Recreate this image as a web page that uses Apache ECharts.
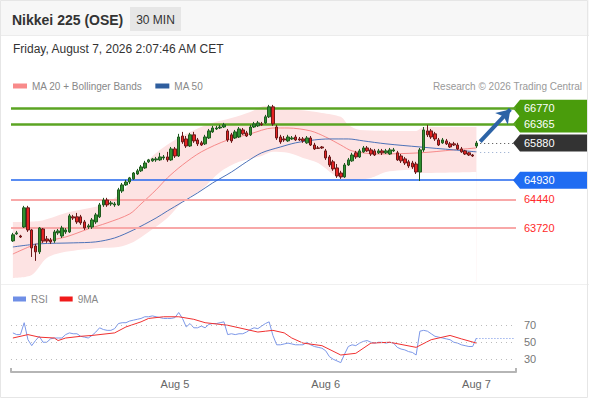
<!DOCTYPE html>
<html lang="en">
<head>
<meta charset="UTF-8">
<title>Nikkei 225 (OSE) - 30 MIN</title>
<script src="https://cdn.jsdelivr.net/npm/echarts@6/dist/echarts.min.js"></script>
<style>
    html, body { margin: 0; padding: 0; background: #fff; }
    #chart { width: 590px; height: 400px; }
</style>
</head>
<body>
<div id="chart"></div>
<script type="application/javascript">
    // 30 min bars, index 0 = first bar on screen
    var openPx = [
        63380, 63560, 63505, 63735, 64225, 63660, 63250, 63100, 63685, 63430,
        63405, 63380, 63585, 63505, 63610, 63610, 63995, 63995, 63995, 63865,
        63735, 63735, 63865, 63995, 64300, 64425, 64325, 64300, 64300, 64655,
        64810, 64885, 64965, 65090, 65170, 65245, 65400, 65425, 65450, 65450,
        65500, 65525, 65450, 65730, 65550, 66060, 65985, 65805, 66090, 65960,
        65885, 65860, 66010, 66165, 66240, 66265, 66290, 66190, 66090, 66010,
        66035, 66215, 66140, 66090, 66290, 66320, 66370, 66395, 66550, 66805,
        66290, 66035, 65985, 65935, 65985, 66035, 65985, 65985, 65885, 66010,
        65830, 65755, 65780, 65680, 65525, 65400, 65245, 65115, 65015, 65320,
        65425, 65630, 65525, 65655, 65755, 65705, 65680, 65630, 65680, 65630,
        65600, 65680, 65630, 65550, 65475, 65400, 65370, 65345, 65140, 65705,
        66190, 66190, 66115, 65960, 65885, 65935, 65860, 65860, 65830, 65730,
        65680, 65630, 65575, 65805
    ];
    var closePx = [
        63535, 63585, 63480, 64225, 63660, 63200, 63100, 63710, 63380, 63380,
        63355, 63610, 63635, 63710, 63660, 64020, 63965, 63865, 63840, 63710,
        63765, 63915, 64045, 64300, 64425, 64300, 64350, 64325, 64685, 64810,
        64885, 64990, 65115, 65170, 65270, 65370, 65450, 65475, 65475, 65525,
        65525, 65450, 65730, 65550, 66035, 65910, 65805, 66090, 65935, 65860,
        65830, 66035, 66190, 66265, 66265, 66290, 66345, 65960, 65935, 66165,
        66240, 66115, 66060, 66290, 66370, 66395, 66345, 66550, 66805, 66370,
        66010, 65910, 65960, 66035, 66010, 65960, 65960, 65935, 66010, 65830,
        65730, 65745, 65755, 65500, 65320, 65220, 65040, 65015, 65320, 65450,
        65575, 65525, 65680, 65755, 65680, 65600, 65575, 65680, 65630, 65680,
        65705, 65705, 65450, 65425, 65370, 65295, 65270, 65140, 65705, 66215,
        66090, 66035, 65985, 65830, 65960, 65860, 65780, 65830, 65730, 65655,
        65600, 65575, 65550, 65880
    ];
    var lowPx = [
        63355, 63535, 63455, 63710, 63610, 62970, 62870, 63045, 63330, 63330,
        63305, 63330, 63535, 63455, 63560, 63585, 63915, 63815, 63790, 63660,
        63685, 63685, 63815, 63965, 64250, 64250, 64275, 64250, 64275, 64605,
        64785, 64835, 64940, 65065, 65140, 65220, 65370, 65400, 65400, 65425,
        65450, 65400, 65425, 65500, 65525, 65860, 65755, 65780, 65885, 65805,
        65805, 65830, 65985, 66140, 66215, 66240, 66265, 65910, 65885, 65985,
        66010, 66090, 66035, 66060, 66265, 66290, 66320, 66370, 66520, 66320,
        65960, 65860, 65910, 65910, 65960, 65935, 65935, 65885, 65860, 65805,
        65705, 65730, 65730, 65450, 65270, 65170, 64990, 64965, 64990, 65295,
        65400, 65475, 65500, 65630, 65655, 65550, 65550, 65600, 65575, 65600,
        65575, 65655, 65425, 65370, 65320, 65245, 65220, 65090, 64910, 65655,
        66035, 65985, 65935, 65805, 65860, 65830, 65755, 65805, 65705, 65630,
        65575, 65550, 65525, 65755
    ];
    var highPx = [
        63585, 63635, 63535, 64275, 64275, 63685, 63305, 63735, 63710, 63505,
        63455, 63660, 63685, 63765, 63710, 64070, 64045, 64095, 64045, 63915,
        63815, 63965, 64095, 64350, 64480, 64480, 64400, 64375, 64735, 64860,
        64940, 65015, 65140, 65220, 65320, 65425, 65475, 65500, 65525, 65630,
        65575, 65655, 65780, 65780, 66115, 66165, 66060, 66140, 66165, 66010,
        65935, 66090, 66240, 66320, 66320, 66345, 66395, 66240, 66140, 66215,
        66290, 66265, 66190, 66345, 66420, 66445, 66420, 66600, 66855, 66855,
        66345, 66090, 66060, 66090, 66060, 66090, 66035, 66035, 66060, 66060,
        65885, 65805, 65805, 65730, 65575, 65450, 65345, 65170, 65370, 65500,
        65630, 65680, 65730, 65805, 65805, 65755, 65730, 65730, 65730, 65730,
        65755, 65755, 65680, 65600, 65525, 65450, 65425, 65400, 65755, 66290,
        66345, 66240, 66165, 66010, 66010, 65985, 65910, 65910, 65885, 65780,
        65705, 65655, 65600, 65935
    ];

    // RSI per bar
    var rsi = [
        61, 59, 59, 73, 53, 46, 52, 57, 50, 50,
        54, 55, 55, 55, 59, 61, 60, 60, 57, 56,
        55, 58, 62, 67, 65, 64, 64, 66, 72, 73,
        73, 75, 76, 77, 78, 80, 80, 81, 80, 79,
        78, 78, 78, 79, 85, 78, 68, 72, 67, 67,
        69, 67, 71, 72, 72, 73, 74, 59, 60, 59,
        60, 60, 62, 65, 67, 66, 69, 72, 74, 58,
        47, 47, 48, 49, 48, 47, 47, 47, 50, 47,
        45, 44, 43, 40, 33, 30, 28, 26, 36, 45,
        47, 46, 49, 51, 52, 50, 49, 50, 50, 49,
        50, 49, 44, 42, 41, 39, 38, 35, 63, 64,
        63, 60, 57, 56, 55, 54, 53, 50, 49, 47,
        46, 45, 45, 55
    ];

    // indicator lines, [bar index, value]
    var ma20 = [[0, 63045], [7, 63330], [14, 63480], [20, 63685], [25, 63840], [31, 64070], [34, 64325],
        [38, 64685], [41, 64990], [45, 65320], [50, 65655], [57, 65960], [63, 66115], [69, 66265], [73, 66265],
        [79, 66190], [83, 66035], [87, 65830], [90, 65680], [97, 65600], [108, 65630], [117, 65705], [123, 65755]];
    var ma50 = [[0, 63225], [7, 63305], [16, 63330], [22, 63355], [27, 63455], [32, 63660], [38, 63965],
        [41, 64145], [49, 64605], [53, 64860], [58, 65140], [62, 65400], [66, 65630], [71, 65780], [75, 65885],
        [80, 65960], [84, 65985], [89, 65985], [93, 65935], [99, 65860], [108, 65780], [117, 65705], [123, 65655]];
    var bandUpper = [[0, 63865], [7, 63890], [14, 64095], [22, 64250], [25, 64350], [29, 64630], [32, 64990],
        [36, 65450], [39, 65705], [43, 65960], [47, 66165], [52, 66370], [58, 66520], [63, 66675], [67, 66830],
        [72, 66750], [76, 66725], [82, 66650], [87, 66550], [89, 66345], [92, 66215], [103, 66190], [107, 66190],
        [109, 66290], [123, 66290]];
    var bandLower = [[0, 62435], [5, 62510], [9, 62945], [14, 63100], [23, 63200], [28, 63225], [32, 63355],
        [36, 63610], [41, 63965], [45, 64375], [50, 64685], [55, 65140], [60, 65400], [66, 65550], [69, 65655],
        [73, 65630], [77, 65500], [81, 65370], [86, 65015], [89, 64940], [95, 64990], [99, 65140], [107, 65195],
        [108, 65115], [123, 65140]];
    var rsiMa = [[0, 55], [4, 59], [7, 56], [11, 55], [12, 52], [14, 55], [18, 57], [21, 58], [27, 61], [30, 68],
        [34, 74], [36, 78], [40, 80], [44, 80], [48, 77], [51, 73], [57, 70], [60, 67], [65, 62], [67, 63],
        [69, 64], [72, 61], [74, 55], [77, 49], [82, 46], [87, 35], [91, 37], [95, 49], [100, 50], [107, 44],
        [111, 53], [116, 58], [119, 54], [123, 49]];

    // key levels
    var resistance = [66770, 66365];
    var lastPrice = 65880;
    var support = [64930];
    var lowerLevels = [64440, 63720];
    var rsiLevels = [30, 50, 70];
    var rsiLast = 55;

    // x axis: 134 slots, the last ones are empty space on the right
    var nSlots = 134;
    var dayTicks = [43, 83, 123];
    var dayLabels = ['Aug 5', 'Aug 6', 'Aug 7'];

    var slots = [];
    for (var i = 0; i < nSlots; i++) slots.push(String(i));
    var candles = openPx.map(function (o, i) {
        return [o, closePx[i], lowPx[i], highPx[i]];
    });
    var lastIdx = openPx.length - 1;

    var font = '"Liberation Sans", Arial, Helvetica, sans-serif';
    var chart = echarts.init(document.getElementById('chart'), null, {renderer: 'svg'});

    var levelLines = [];
    resistance.forEach(function (v) {
        levelLines.push({yAxis: v, lineStyle: {color: '#5ba423', width: 2.5, type: 'solid'}, label: {show: false}});
    });
    support.forEach(function (v) {
        levelLines.push({yAxis: v, lineStyle: {color: '#2266ee', width: 1.5, type: 'solid'}, label: {show: false}});
    });
    lowerLevels.forEach(function (v) {
        levelLines.push({
            yAxis: v, lineStyle: {color: '#f8a8a8', width: 2, type: 'solid'},
            label: {show: true, position: 'end', distance: 8, formatter: String(v), color: '#ff2a2a', fontSize: 11, fontFamily: font}
        });
    });
    levelLines.push([
        {coord: [lastIdx + 1, lastPrice], lineStyle: {color: '#444', width: 1, type: [1, 3]}, label: {show: false}},
        {coord: [nSlots - 1, lastPrice]}
    ]);
    levelLines.push([
        {coord: [lastIdx + 1, 65915], symbol: 'none', lineStyle: {color: '#2c63a6', width: 4, type: 'solid'}, label: {show: false}},
        {coord: [nSlots - 2, 66740], symbol: 'arrow', symbolSize: [13, 13]}
    ]);

    var rsiLines = rsiLevels.map(function (v) {
        return {
            yAxis: v, lineStyle: {color: '#bbb', width: 1, type: [1, 4]},
            label: {show: true, position: 'end', distance: 8, formatter: String(v), color: '#777', fontSize: 11, fontFamily: font}
        };
    });
    rsiLines.push([
        {coord: [lastIdx, rsiLast], lineStyle: {color: '#6f8fe6', width: 1, type: [1, 2]}, label: {show: false}},
        {coord: [nSlots - 1, rsiLast]}
    ]);

    var option = {
        animation: false,
        textStyle: {fontFamily: font},
        legend: [{
            data: ['MA 20 + Bollinger Bands', 'MA 50'],
            left: 13, top: 81, padding: 0,
            icon: 'rect', itemWidth: 14, itemHeight: 5, itemGap: 13,
            selectedMode: false,
            textStyle: {color: '#888', fontSize: 10, fontFamily: font}
        }, {
            data: ['RSI', '9MA'],
            left: 13, top: 294, padding: 0,
            icon: 'rect', itemWidth: 13, itemHeight: 5, itemGap: 12,
            selectedMode: false,
            textStyle: {color: '#888', fontSize: 10, fontFamily: font}
        }],
        grid: [
            {left: 11, width: 505, top: 100, height: 182},
            {left: 11, width: 505, top: 304, height: 68}
        ],
        xAxis: [{
            type: 'category', gridIndex: 0, data: slots, show: false
        }, {
            type: 'category', gridIndex: 1, data: slots,
            axisLine: {lineStyle: {color: '#b5b5b5', width: 2}},
            axisTick: {show: true, inside: true, length: 4, interval: function (i) { return i === 0; },
                lineStyle: {color: '#b5b5b5', width: 2}},
            axisLabel: {
                interval: function (i) { return dayTicks.indexOf(i) >= 0; },
                formatter: function (v, i) {
                    var k = dayTicks.indexOf(i);
                    return k >= 0 ? dayLabels[k] : '';
                },
                color: '#666', fontSize: 11, margin: 6
            }
        }],
        yAxis: [
            {type: 'value', gridIndex: 0, min: 62330, max: 66980, show: false},
            {type: 'value', gridIndex: 1, min: 15, max: 95, show: false}
        ],
        series: [{
            name: 'bandUpper', type: 'line', z: 1, data: bandUpper, smooth: 0.3, symbol: 'none', silent: true,
            lineStyle: {width: 0}, areaStyle: {color: '#fde3e3', opacity: 1, origin: 'start'}
        }, {
            name: 'bandLower', type: 'line', z: 1, data: bandLower, smooth: 0.3, symbol: 'none', silent: true,
            lineStyle: {width: 0}, areaStyle: {color: '#ffffff', opacity: 1, origin: 'start'}
        }, {
            name: 'MA 20 + Bollinger Bands', type: 'line', z: 3, data: ma20, smooth: 0.3, symbol: 'none',
            itemStyle: {color: '#f88a8a'}, lineStyle: {color: '#f47a7a', width: 1, opacity: 0.85}
        }, {
            name: 'MA 50', type: 'line', z: 3, data: ma50, smooth: 0.3, symbol: 'none',
            itemStyle: {color: '#2f5e9e'}, lineStyle: {color: '#4d72b8', width: 1},
            markLine: {
                silent: true, symbol: 'none',
                data: [[
                    {coord: [lastIdx + 1, ma50[ma50.length - 1][1]], lineStyle: {color: '#8fa6cc', width: 1, type: [1, 3]}, label: {show: false}},
                    {coord: [nSlots - 2, ma50[ma50.length - 1][1]]}
                ]]
            }
        }, {
            name: 'Nikkei 225', type: 'candlestick', z: 5, data: candles, barWidth: 3,
            itemStyle: {
                color: '#2f8f2f', color0: '#e52222',
                borderColor: '#1f5a1f', borderColor0: '#6a1a1a', borderWidth: 1
            },
            markLine: {silent: true, symbol: 'none', data: levelLines}
        }, {
            name: 'RSI', type: 'line', xAxisIndex: 1, yAxisIndex: 1, data: rsi, symbol: 'none',
            itemStyle: {color: '#6f8fe6'}, lineStyle: {color: '#7d98e8', width: 1},
            markLine: {silent: true, symbol: 'none', data: rsiLines}
        }, {
            name: '9MA', type: 'line', xAxisIndex: 1, yAxisIndex: 1, data: rsiMa, symbol: 'none',
            itemStyle: {color: '#f01a1a'}, lineStyle: {color: '#f03030', width: 1}
        }]
    };
    chart.setOption(option);

    // price tags on the right, placed through the y scale
    function priceTag(v, fill) {
        var y = chart.convertToPixel({yAxisIndex: 0}, v);
        return {
            type: 'group', z: 50, children: [{
                type: 'polygon',
                shape: {points: [[513, y], [520, y - 8.5], [587, y - 8.5], [587, y + 8.5], [520, y + 8.5]]},
                style: {fill: fill}
            }, {
                type: 'text', x: 524, y: y,
                style: {text: String(v), fill: '#fff', font: '11px ' + font, verticalAlign: 'middle'}
            }]
        };
    }
    var xa = chart.convertToPixel({xAxisIndex: 1}, String(nSlots - 1));
    var xb = chart.convertToPixel({xAxisIndex: 1}, String(nSlots - 2));
    var rightEdge = xa + (xa - xb) / 2;

    var graphics = [
        {type: 'rect', z: -10, shape: {x: 0, y: 0, width: 589, height: 35}, style: {fill: '#f7f7f7'}},
        {type: 'line', z: -9, shape: {x1: 0, y1: 35.5, x2: 589, y2: 35.5}, style: {stroke: '#ececec', lineWidth: 1}},
        {type: 'line', z: -9, shape: {x1: 0, y1: 284.5, x2: 589, y2: 284.5}, style: {stroke: '#f0f0f0', lineWidth: 1}},
        {type: 'rect', z: -9, shape: {x: 0.5, y: 0.5, width: 587, height: 397}, style: {fill: 'none', stroke: '#e6e6e6', lineWidth: 1}},
        {type: 'text', x: 12, y: 20, style: {text: 'Nikkei 225 (OSE)', fill: '#333', font: 'bold 14px ' + font, verticalAlign: 'middle'}},
        {type: 'rect', shape: {x: 130, y: 7, width: 51, height: 24}, style: {fill: '#e6e6e6'}},
        {type: 'text', x: 155.5, y: 19.5, style: {text: '30 MIN', fill: '#333', font: '12px ' + font, align: 'center', verticalAlign: 'middle'}},
        {type: 'text', x: 13, y: 49, style: {text: 'Friday, August 7, 2026 2:07:46 AM CET', fill: '#333', font: '12px ' + font, verticalAlign: 'middle'}},
        {type: 'text', x: 582, y: 86, style: {text: 'Research \u00a9 2026 Trading Central', fill: '#999', font: '10px ' + font, align: 'right', verticalAlign: 'middle'}},
        {type: 'line', shape: {x1: rightEdge, y1: 368, x2: rightEdge, y2: 372}, style: {stroke: '#b5b5b5', lineWidth: 2}}
    ];
    resistance.forEach(function (v) { graphics.push(priceTag(v, '#4a9c0c')); });
    graphics.push(priceTag(lastPrice, '#333333'));
    support.forEach(function (v) { graphics.push(priceTag(v, '#1f6cf2')); });

    chart.setOption({graphic: graphics});
</script>
</body>
</html>
